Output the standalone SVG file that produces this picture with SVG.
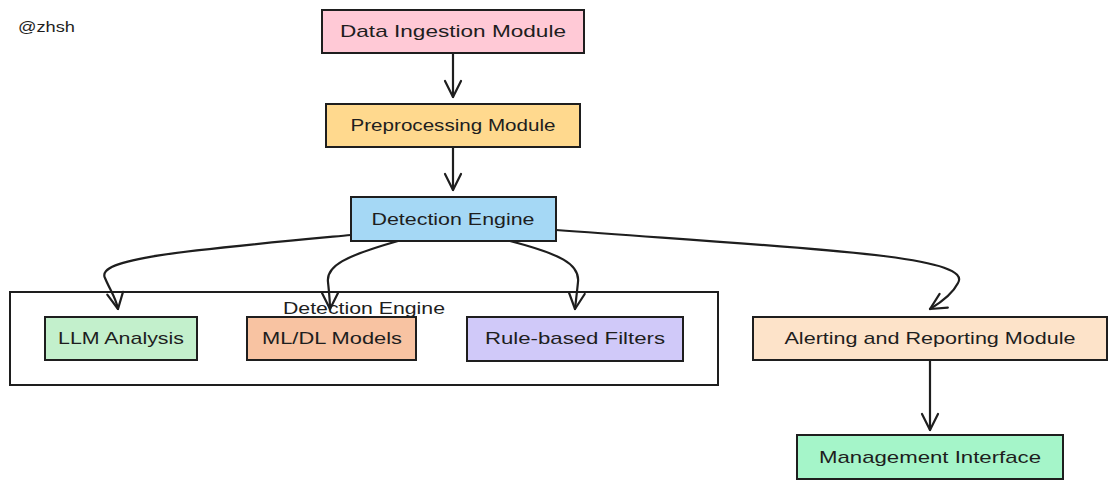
<svg xmlns="http://www.w3.org/2000/svg" width="1117" height="489" viewBox="0 0 1117 489">
<style>
.box{stroke:#1e1e1e;stroke-width:2;}
.lbl{font-family:"Liberation Sans","DejaVu Sans",sans-serif;font-size:17px;fill:#1e1e1e;text-anchor:middle;dominant-baseline:central;}
.edge{fill:none;stroke:#1e1e1e;stroke-width:2.2;stroke-linecap:round;}
</style>
<defs>
<marker id="arr" viewBox="-18 -10 20 20" refX="0" refY="0" markerWidth="20" markerHeight="20" markerUnits="userSpaceOnUse" orient="auto">
<path d="M-16,-8 L0,0 L-16,8" fill="none" stroke="#1e1e1e" stroke-width="2.2" stroke-linecap="round" stroke-linejoin="round"/>
</marker>
</defs>
<rect width="1117" height="489" fill="#ffffff"/>
<text x="18" y="27" class="lbl" style="text-anchor:start;font-size:14px" textLength="57" lengthAdjust="spacingAndGlyphs">@zhsh</text>

<g id="container">
<rect x="10" y="292" width="708" height="93" fill="#ffffff" class="box"/>
</g>

<g id="connectors">
<path class="edge" d="M453,53 L453,97" marker-end="url(#arr)"/>
<path class="edge" d="M453,147 L453,190" marker-end="url(#arr)"/>
<path class="edge" d="M351,235 C190,250 95,258 105,278 C110,290 116,298 118,309" marker-end="url(#arr)"/>
<path class="edge" d="M398,241 C345,256 326,266 328,282 C329,292 330,300 330,309" marker-end="url(#arr)"/>
<path class="edge" d="M510,241 C560,254 580,264 578,282 C577,292 576,300 575,309" marker-end="url(#arr)"/>
<path class="edge" d="M556,230 C800,248 975,255 958,283 C952,295 940,303 930,309" marker-end="url(#arr)"/>
<path class="edge" d="M930,360 L930,430" marker-end="url(#arr)"/>
</g>

<g id="container-label">
<text x="364" y="308" class="lbl" textLength="162" lengthAdjust="spacingAndGlyphs">Detection Engine</text>
</g>

<g id="data-ingestion">
<rect x="322" y="10" width="262" height="43" fill="#ffc9d6" class="box"/>
<text x="453" y="31" class="lbl" textLength="226" lengthAdjust="spacingAndGlyphs">Data Ingestion Module</text>
</g>
<g id="preprocessing">
<rect x="326" y="104" width="254" height="43" fill="#ffd98e" class="box"/>
<text x="453" y="125" class="lbl" textLength="205" lengthAdjust="spacingAndGlyphs">Preprocessing Module</text>
</g>
<g id="detection-engine">
<rect x="351" y="197" width="205" height="44" fill="#a5d8f5" class="box"/>
<text x="453" y="219" class="lbl" textLength="163" lengthAdjust="spacingAndGlyphs">Detection Engine</text>
</g>
<g id="llm">
<rect x="45" y="317" width="152" height="43" fill="#c3f0cc" class="box"/>
<text x="121" y="338" class="lbl" textLength="126" lengthAdjust="spacingAndGlyphs">LLM Analysis</text>
</g>
<g id="mldl">
<rect x="247" y="317" width="169" height="43" fill="#f8c3a2" class="box"/>
<text x="332" y="338" class="lbl" textLength="140" lengthAdjust="spacingAndGlyphs">ML/DL Models</text>
</g>
<g id="rules">
<rect x="467" y="317" width="216" height="44" fill="#d0c9f9" class="box"/>
<text x="575" y="338" class="lbl" textLength="180" lengthAdjust="spacingAndGlyphs">Rule-based Filters</text>
</g>
<g id="alerting">
<rect x="753" y="317" width="354" height="43" fill="#fde3c9" class="box"/>
<text x="930" y="338" class="lbl" textLength="291" lengthAdjust="spacingAndGlyphs">Alerting and Reporting Module</text>
</g>
<g id="management">
<rect x="797" y="435" width="266" height="44" fill="#a5f5c9" class="box"/>
<text x="930" y="457" class="lbl" textLength="222" lengthAdjust="spacingAndGlyphs">Management Interface</text>
</g>
</svg>
